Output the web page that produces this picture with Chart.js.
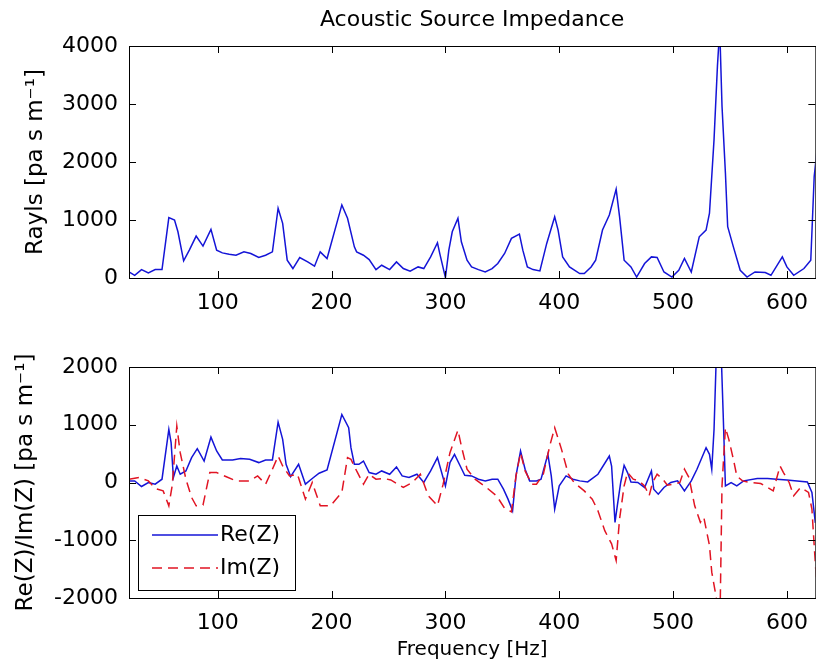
<!DOCTYPE html>
<html lang="en">
<head>
<meta charset="UTF-8">
<title>Acoustic Source Impedance</title>
<script src="https://cdn.jsdelivr.net/npm/chart.js"></script>
<style>
  body { margin: 0; background: #fff; overflow: hidden; width: 816px; height: 668px; position: relative; }
  .panel { position: absolute; left: 0; width: 820px; height: 334px; }
  #topPanel { top: 0; }
  #bottomPanel { top: 334px; }
</style>
</head>
<body>
<div class="panel" id="topPanel"><canvas id="magChart"></canvas></div>
<div class="panel" id="bottomPanel"><canvas id="reimChart"></canvas></div>
<script>
// frequency axis ticks
const xTicks = [100, 200, 300, 400, 500, 600];
const magTicks = [0, 1000, 2000, 3000, 4000];
const reimTicks = [-2000, -1000, 0, 1000, 2000];

// top panel: source impedance magnitude (Rayls)
const magFreq = [22, 27, 33, 39, 45, 51, 57, 62, 65, 70, 75, 81, 87, 94, 99, 104, 110, 116, 123, 129,
  136, 142, 148, 153, 157, 161, 166, 172, 179, 185, 190, 196, 209, 214, 220, 222, 228, 233, 239, 244,
  251, 257, 263, 269, 276, 281, 287, 293, 295, 300, 303, 306, 311, 314, 319, 323, 329, 335, 341, 346,
  352, 358, 365, 368, 372, 377, 383, 389, 396, 399, 403, 409, 418, 422, 428, 432, 438, 444, 450, 453,
  457, 463, 468, 475, 481, 486, 492, 499, 505, 510, 516, 523, 529, 532, 536, 539, 541, 543, 546, 548,
  553, 559, 565, 572, 581, 586, 596, 600, 606, 615, 621, 624, 627];
const magVals = [104, 47, 145, 87, 145, 145, 1040, 1000, 797, 295, 480, 723, 550, 839, 480, 433, 411, 393, 451, 423,
  353, 393, 451, 1203, 943, 307, 163, 353, 277, 203, 451, 336, 1260, 1029, 537, 451, 393, 318, 145, 220,
  145, 277, 163, 116, 191, 163, 364, 607, 423, 7, 480, 797, 1029, 624, 307, 191, 145, 104, 163, 250,
  423, 683, 757, 480, 191, 145, 121, 596, 1057, 827, 364, 191, 76, 76, 191, 307, 827, 1087, 1532, 1057,
  307, 191, 17, 250, 364, 353, 104, 17, 133, 336, 104, 711, 827, 1116, 2386, 3657, 4300, 2964, 1809, 884,
  537, 133, 17, 104, 94, 47, 364, 191, 47, 163, 307, 1750, 2300];

// bottom panel: real part
const reFreq = [22, 27, 33, 39, 45, 51, 57, 59, 61, 64, 67, 72, 77, 82, 88, 94, 99, 104, 113, 120,
  128, 136, 142, 148, 153, 157, 160, 164, 171, 177, 183, 189, 196, 209, 215, 217, 220, 224, 228, 233,
  239, 244, 251, 257, 262, 268, 275, 281, 287, 293, 300, 304, 308, 313, 317, 323, 329, 335, 341, 346,
  351, 355, 359, 362, 366, 370, 374, 380, 384, 390, 393, 396, 400, 406, 412, 418, 425, 434, 444, 446,
  449, 451, 454, 457, 460, 463, 469, 475, 481, 483, 487, 492, 498, 504, 510, 516, 521, 529, 532, 534,
  536, 538, 541, 544, 546, 551, 556, 562, 574, 583, 591, 600, 609, 618, 622, 625];
const reVals = [28, 28, -69, 0, -29, 57, 919, 690, 86, 286, 143, 200, 431, 586, 372, 786, 545, 390, 390, 414,
  402, 345, 390, 390, 1045, 747, 316, 103, 316, -29, 69, 160, 217, 1178, 948, 603, 316, 316, 372, 172,
  143, 200, 143, 269, 114, 86, 143, 0, 200, 431, -59, 345, 488, 286, 126, 114, 57, 28, 57, 57,
  -116, -288, -489, 114, 545, 230, 28, 28, 57, 488, 114, -460, -59, 114, 57, 28, 10, 143, 459, 286,
  -690, -403, 0, 298, 172, 10, 0, -86, 200, -116, -202, -86, 0, 28, -145, 28, 230, 603, 488, 230,
  919, 2200, 3000, 1207, -59, 0, -59, 28, 69, 69, 57, 45, 28, 10, -172, -700];

// bottom panel: imaginary part
const imFreq = [22, 31, 39, 45, 52, 57, 60, 64, 67, 72, 77, 81, 87, 93, 99, 107, 116, 128, 135, 142,
  148, 153, 157, 163, 170, 177, 183, 190, 199, 209, 214, 217, 222, 228, 233, 239, 246, 252, 263, 271,
  278, 285, 293, 298, 304, 311, 314, 319, 326, 336, 345, 352, 358, 362, 366, 370, 376, 380, 386, 392,
  396, 402, 408, 413, 422, 429, 434, 440, 446, 450, 453, 457, 460, 465, 470, 475, 479, 482, 486, 491,
  495, 501, 506, 510, 514, 519, 524, 527, 532, 534, 538, 541, 543, 546, 549, 553, 556, 561, 568, 577,
  583, 588, 594, 597, 602, 606, 612, 619, 622, 624, 626];
const imVals = [57, 86, 28, -103, -145, -403, -47, 976, 517, 57, -259, -403, -391, 172, 172, 103, 28, 28, 114, -29,
  229, 459, 286, 114, 143, -288, 0, -403, -403, -172, 431, 402, 200, -29, 143, 57, 69, 45, -86, 0,
  143, -231, -403, -29, 517, 907, 631, 229, 57, -86, -231, -448, -507, 114, 517, 200, -29, -29, 143, 660,
  948, 574, 143, 0, -145, -288, -489, -834, -1063, -1351, -633, -59, 172, 57, 28, -59, -231, 0, 143, 57,
  -47, -29, 0, 230, 86, -403, -690, -603, -1092, -1552, -2000, -2700, -59, 948, 747, 402, 114, 28, 0, -17,
  -86, -145, 286, 172, 0, -231, -86, -172, -460, -1092, -1700];

const BLUE = 'rgb(20, 20, 215)';
const RED = 'rgb(225, 20, 35)';
const FONT = 'DejaVu Sans';

Chart.defaults.font.family = FONT;
Chart.defaults.font.size = 22;
Chart.defaults.color = '#000';

const pts = (xs, ys) => xs.map((x, i) => ({ x: x, y: ys[i] }));

// matlab style box: frame, inward ticks, title and legend
const matlabAxes = {
    id: 'matlabAxes',
    afterDraw(chart, args, opts) {
        const { ctx, chartArea: a, scales: { x, y } } = chart;
        const len = 7;
        ctx.save();
        ctx.strokeStyle = '#000';
        ctx.lineWidth = 1;
        ctx.strokeRect(a.left + 0.5, a.top + 0.5, a.right - a.left, a.bottom - a.top);
        ctx.beginPath();
        x.ticks.forEach(t => {
            const px = Math.round(x.getPixelForValue(t.value)) + 0.5;
            ctx.moveTo(px, a.bottom); ctx.lineTo(px, a.bottom - len);
            ctx.moveTo(px, a.top); ctx.lineTo(px, a.top + len);
        });
        y.ticks.forEach(t => {
            const py = Math.round(y.getPixelForValue(t.value)) + 0.5;
            ctx.moveTo(a.left, py); ctx.lineTo(a.left + len, py);
            ctx.moveTo(a.right, py); ctx.lineTo(a.right - len, py);
        });
        ctx.stroke();

        if (opts.title) {
            ctx.fillStyle = '#000';
            ctx.font = '22px "' + FONT + '"';
            ctx.textAlign = 'center';
            ctx.textBaseline = 'middle';
            ctx.fillText(opts.title, (a.left + a.right) / 2, opts.titleY);
        }

        if (opts.legend) {
            const bx = a.left + 9, by = a.top + 148, bw = 157, bh = 75;
            ctx.fillStyle = '#fff';
            ctx.fillRect(bx, by, bw, bh);
            ctx.strokeRect(bx + 0.5, by + 0.5, bw, bh);
            ctx.font = '22px "' + FONT + '"';
            ctx.textAlign = 'left';
            ctx.textBaseline = 'middle';
            const rows = [chart.data.datasets[1], chart.data.datasets[0]];
            rows.forEach((ds, i) => {
                const ly = by + 20 + i * 33;
                ctx.strokeStyle = ds.borderColor;
                ctx.lineWidth = ds.borderWidth;
                ctx.setLineDash(ds.borderDash || []);
                ctx.beginPath();
                ctx.moveTo(bx + 14, ly); ctx.lineTo(bx + 80, ly);
                ctx.stroke();
                ctx.setLineDash([]);
                ctx.fillStyle = '#000';
                ctx.fillText(ds.label, bx + 82, ly);
            });
        }
        ctx.restore();
    }
};

const plain = v => String(v);

function xScale(height, title) {
    return {
        type: 'linear', min: 22, max: 625,
        grid: { display: false, drawTicks: false },
        border: { display: false },
        afterBuildTicks: s => { s.ticks = xTicks.map(v => ({ value: v })); },
        afterFit: s => { s.height = height; },
        ticks: { padding: 12, maxRotation: 0, callback: plain },
        title: title ? { display: true, text: title, font: { size: 20 }, padding: { bottom: 6 } } : { display: false }
    };
}

function yScale(min, max, ticks, title, titlePad) {
    return {
        min: min, max: max,
        grid: { display: false, drawTicks: false },
        border: { display: false },
        afterBuildTicks: s => { s.ticks = ticks.map(v => ({ value: v })); },
        afterFit: s => { s.width = 129; },
        ticks: { padding: 11, callback: plain },
        title: { display: true, text: title, font: { size: 23 }, padding: { top: titlePad } }
    };
}

new Chart(document.getElementById('magChart'), {
    type: 'line',
    data: {
        datasets: [{
            label: '|Z|',
            data: pts(magFreq, magVals),
            borderColor: BLUE,
            borderWidth: 1.5,
            pointRadius: 0,
            tension: 0
        }]
    },
    options: {
        responsive: true,
        maintainAspectRatio: false,
        animation: false,
        layout: { padding: { top: 46, right: 3, left: 0, bottom: 0 } },
        plugins: {
            legend: { display: false },
            tooltip: { enabled: false },
            matlabAxes: { title: 'Acoustic Source Impedance', titleY: 20 }
        },
        scales: {
            x: xScale(56, null),
            y: yScale(0, 4000, magTicks, 'Rayls [pa s m⁻¹]', 22)
        }
    },
    plugins: [matlabAxes]
});

new Chart(document.getElementById('reimChart'), {
    type: 'line',
    data: {
        datasets: [
            {
                label: 'Im(Z)',
                data: pts(imFreq, imVals),
                borderColor: RED,
                borderWidth: 1.5,
                borderDash: [10, 6],
                pointRadius: 0,
                tension: 0,
                order: 1
            },
            {
                label: 'Re(Z)',
                data: pts(reFreq, reVals),
                borderColor: BLUE,
                borderWidth: 1.5,
                pointRadius: 0,
                tension: 0,
                order: 2
            }
        ]
    },
    options: {
        responsive: true,
        maintainAspectRatio: false,
        animation: false,
        layout: { padding: { top: 33, right: 3, left: 0, bottom: 0 } },
        plugins: {
            legend: { display: false },
            tooltip: { enabled: false },
            matlabAxes: { legend: true }
        },
        scales: {
            x: xScale(70, 'Frequency [Hz]'),
            y: yScale(-2000, 2000, reimTicks, 'Re(Z)/Im(Z) [pa s m⁻¹]', 12)
        }
    },
    plugins: [matlabAxes]
});
</script>
</body>
</html>
